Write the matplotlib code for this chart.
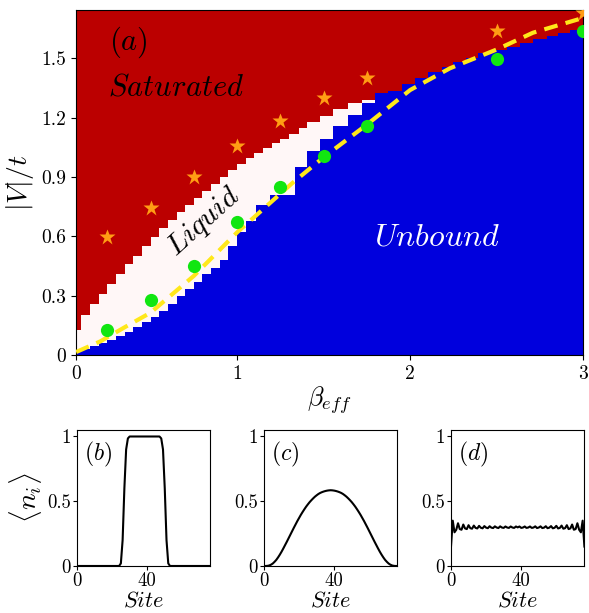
import numpy as np
import matplotlib
matplotlib.use('Agg')
import matplotlib.pyplot as plt

plt.rcParams['font.family'] = 'serif'
plt.rcParams['font.serif'] = ['cmr10']
plt.rcParams['mathtext.fontset'] = 'cm'
plt.rcParams['axes.unicode_minus'] = False
plt.rcParams['axes.formatter.use_mathtext'] = True

# ---------------- data ----------------
# upper edge of the "Unbound" (blue) region, as a step function of beta_eff
B_edges = [0.05, 0.10, 0.15, 0.20, 0.25, 0.30, 0.35, 0.40, 0.45, 0.50, 0.55,
           0.60, 0.65, 0.70, 0.75, 0.80, 0.85, 0.90, 0.95, 1.00,
           1.05, 1.11, 1.19, 1.335, 1.405, 1.48, 1.555, 1.642, 1.723, 1.798,
           1.873, 1.954, 2.029, 2.104, 2.185, 2.249, 2.324, 2.393, 2.48, 2.561,
           2.636, 2.711, 2.792, 2.855, 2.925, 3.0]
B_vals = [0.015, 0.03, 0.045, 0.06, 0.075, 0.095, 0.115, 0.14, 0.165, 0.19,
          0.225, 0.26, 0.30, 0.335, 0.37, 0.41, 0.44, 0.48, 0.55,
          0.62, 0.676, 0.76, 0.81, 0.95, 1.03, 1.09, 1.156, 1.215, 1.275,
          1.325, 1.335, 1.37, 1.40, 1.43, 1.455, 1.48, 1.50, 1.525, 1.545,
          1.56, 1.58, 1.60, 1.615, 1.63, 1.645]
# lower edge of the "Saturated" (red) region where a liquid region exists
R_edges = [0.05, 0.10, 0.15, 0.20, 0.25, 0.30, 0.35, 0.40, 0.45, 0.50, 0.55,
           0.60, 0.65, 0.70, 0.75, 0.80, 0.85, 0.90, 0.95, 1.00, 1.05, 1.10,
           1.15, 1.20, 1.25, 1.30, 1.36, 1.405, 1.48, 1.555, 1.642, 1.723, 1.798]
R_vals = [0.125, 0.20, 0.26, 0.31, 0.36, 0.41, 0.46, 0.50, 0.55, 0.595, 0.64,
          0.685, 0.725, 0.76, 0.795, 0.83, 0.865, 0.90, 0.935, 0.965, 0.995,
          1.02, 1.045, 1.07, 1.095, 1.12, 1.15, 1.176, 1.207, 1.245, 1.275, 1.29]

beta_pts = [0.25, 0.5, 0.75, 1.0, 1.25, 1.5, 1.75, 2.5, 3.0]
V_dots = [0.127, 0.278, 0.45, 0.673, 0.85, 1.007, 1.158, 1.497, 1.64]
V_stars = [0.597, 0.744, 0.90, 1.057, 1.184, 1.30, 1.40, 1.64, 1.73]

beta_line = [0.07, 0.21, 0.35, 0.5, 0.75, 1.0, 1.32, 1.5, 1.75, 2.0, 2.23, 2.5, 2.71, 3.0]
V_line = [0.015, 0.069, 0.14, 0.214, 0.40, 0.62, 0.87, 1.0, 1.165, 1.34, 1.45, 1.545, 1.63, 1.705]

main_xticks = [0.069, 1, 2, 3]
main_xticklabels = ['0', '1', '2', '3']
main_yticks = [0, 0.3, 0.6, 0.9, 1.2, 1.5]
main_yticklabels = ['0', '0.3', '0.6', '0.9', '1.2', '1.5']

sites = list(range(77))
n_b = [0.0, 0.0, 0.0, 0.0, 0.0, 0.0, 0.0, 0.0, 0.0, 0.0,
       0.0, 0.0, 0.0, 0.0, 0.0, 0.0, 0.0, 0.0, 0.0, 0.0,
       0.0, 0.0, 0.0, 0.0, 0.0, 0.02, 0.2, 0.6, 0.9, 0.985,
       1.0, 1.0, 1.0, 1.0, 1.0, 1.0, 1.0, 1.0, 1.0, 1.0,
       1.0, 1.0, 1.0, 1.0, 1.0, 1.0, 1.0, 1.0, 0.985, 0.9,
       0.6, 0.2, 0.02, 0.0, 0.0, 0.0, 0.0, 0.0, 0.0, 0.0,
       0.0, 0.0, 0.0, 0.0, 0.0, 0.0, 0.0, 0.0, 0.0, 0.0,
       0.0, 0.0, 0.0, 0.0, 0.0, 0.0, 0.0]
n_c = [0.0, 0.0, 0.001, 0.004, 0.010, 0.019, 0.032, 0.047, 0.066, 0.087,
       0.110, 0.135, 0.161, 0.187, 0.214, 0.241, 0.268, 0.295, 0.321, 0.347,
       0.371, 0.395, 0.417, 0.438, 0.458, 0.476, 0.493, 0.508, 0.522, 0.535,
       0.546, 0.556, 0.564, 0.570, 0.575, 0.579, 0.582, 0.584, 0.585, 0.584,
       0.582, 0.579, 0.575, 0.570, 0.564, 0.556, 0.546, 0.535, 0.522, 0.508,
       0.493, 0.476, 0.458, 0.438, 0.417, 0.395, 0.371, 0.347, 0.321, 0.295,
       0.268, 0.241, 0.214, 0.187, 0.161, 0.135, 0.110, 0.087, 0.066, 0.047,
       0.032, 0.019, 0.010, 0.004, 0.001, 0.0, 0.0]
n_d = [0.15, 0.35, 0.26, 0.28, 0.33, 0.285, 0.28, 0.32, 0.29, 0.285,
       0.315, 0.292, 0.288, 0.312, 0.294, 0.29, 0.31, 0.295, 0.291, 0.308,
       0.296, 0.292, 0.307, 0.296, 0.293, 0.306, 0.297, 0.293, 0.306, 0.297,
       0.294, 0.305, 0.297, 0.294, 0.305, 0.297, 0.294, 0.305, 0.298, 0.305,
       0.294, 0.297, 0.305, 0.294, 0.297, 0.305, 0.294, 0.297, 0.306, 0.293,
       0.297, 0.306, 0.293, 0.296, 0.307, 0.292, 0.296, 0.308, 0.291, 0.295,
       0.31, 0.29, 0.294, 0.312, 0.288, 0.292, 0.315, 0.285, 0.29, 0.32,
       0.28, 0.285, 0.33, 0.28, 0.26, 0.35, 0.15]

RED = '#bb0000'
BLUE = '#0000dd'
WHITE = '#fff7f7'

# ---------------- figure ----------------
fig = plt.figure(figsize=(5.89, 6.13), dpi=100)
ax = fig.add_axes([0.129, 0.4209, 0.861, 0.5628])
ax.set_facecolor(RED)
ax.stairs(R_vals, R_edges, baseline=0, fill=True, color=WHITE, zorder=1)
ax.stairs(B_vals, B_edges, baseline=0, fill=True, color=BLUE, zorder=2)

ax.plot(beta_line, V_line, color='#ffe81a', lw=3.0, dashes=(3.3, 2.0), zorder=4)
ax.plot(beta_pts, V_dots, 'o', color='#11e611', ms=9.5, mec='none', zorder=5)
ax.plot(beta_pts, V_stars, '*', color='#ff9d14', ms=12, mec='none', zorder=5)

ax.set_xlim(0.069, 3.0)
ax.set_ylim(0, 1.745)
ax.set_xticks(main_xticks)
ax.set_xticklabels(main_xticklabels)
ax.set_yticks(main_yticks)
ax.set_yticklabels(main_yticklabels)
ax.tick_params(labelsize=14)
ax.set_xlabel(r'$\beta_{eff}$', fontsize=19, labelpad=1)
ax.set_ylabel(r'$|V|/t$', fontsize=20, labelpad=4)

ax.text(0.26, 1.58, r'$(a)$', fontsize=22, ha='left', va='center', zorder=6)
ax.text(0.255, 1.35, r'$Saturated$', fontsize=22, ha='left', va='center', zorder=6)
ax.text(0.81, 0.674, r'$Liquid$', fontsize=21.5, ha='center', va='center',
        rotation=42, zorder=6)
ax.text(2.156, 0.593, r'$Unbound$', fontsize=23, ha='center', va='center',
        color='white', zorder=6)

# ---------------- bottom panels ----------------
panel_specs = [(0.1307, n_b, r'$(b)$'), (0.4482, n_c, r'$(c)$'), (0.7657, n_d, r'$(d)$')]
for i, (left, ydata, lab) in enumerate(panel_specs):
    a = fig.add_axes([left, 0.0767, 0.2265, 0.2218])
    a.plot(sites, ydata, color='black', lw=1.5)
    a.set_xlim(0, 76)
    a.set_ylim(0, 1.05)
    a.set_xticks([0, 40])
    a.set_xticklabels(['0', '40'])
    a.set_yticks([0, 0.5, 1])
    a.set_yticklabels(['0', '0.5', '1'])
    a.tick_params(labelsize=13.5, pad=1.5, length=3)
    a.set_xlabel(r'$Site$', fontsize=16, labelpad=0)
    a.text(0.05, 0.82, lab, transform=a.transAxes, fontsize=17,
           ha='left', va='center')
    if i == 0:
        a.set_ylabel(r'$\langle n_i\rangle$', fontsize=20, labelpad=2)

fig.savefig('out.png', dpi=100)
